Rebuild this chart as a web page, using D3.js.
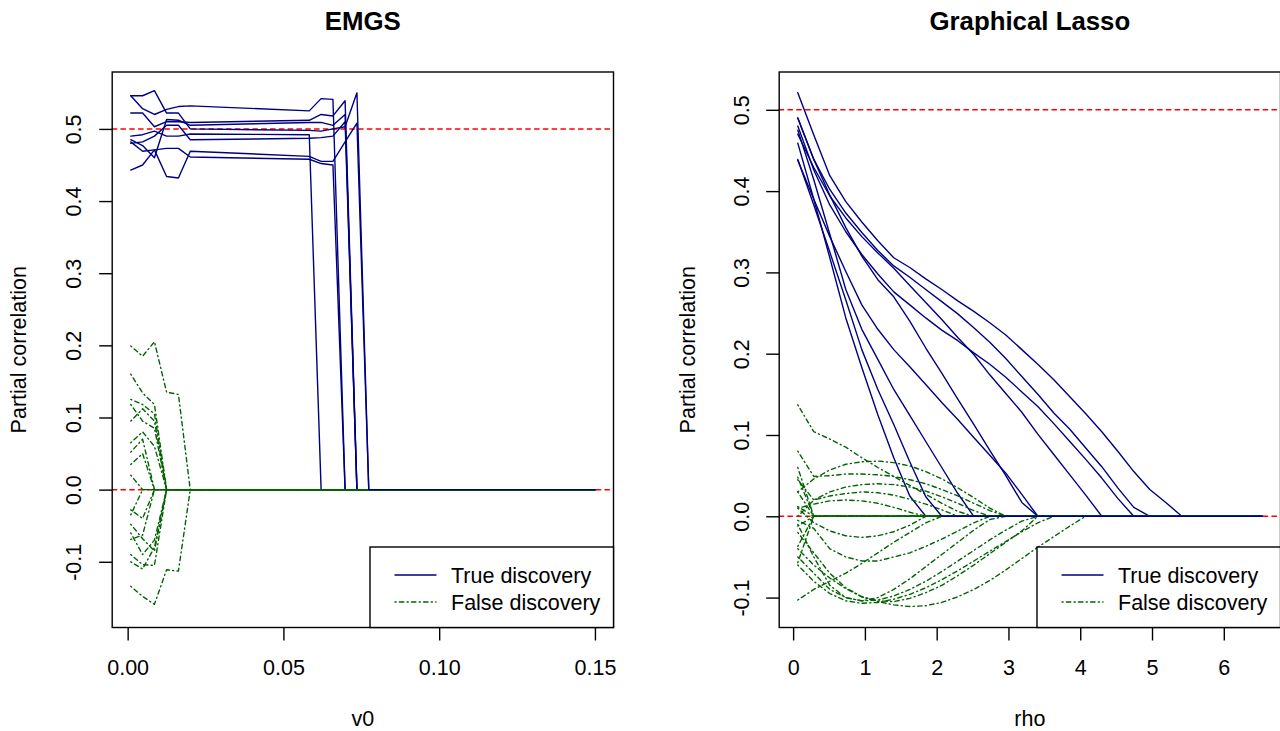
<!DOCTYPE html>
<html><head><meta charset="utf-8">
<script src="https://cdn.jsdelivr.net/npm/d3@7"></script>
<style>
html,body{margin:0;padding:0;background:#fff;}
svg{display:block;}
</style>
</head><body>
<svg id="chart" width="1280" height="731"></svg>
<script>
// ---------------- DATA ----------------
// EMGS panel: v0 grid and partial correlations
const v0Grid = [0.001, 0.0048, 0.0086, 0.0125, 0.0163, 0.0201, 0.0583, 0.0621, 0.0659, 0.0698, 0.0736, 0.0774, 0.15];
const emgsTrue = [
  [0.546,0.528,0.520,0.527,0.531,0.532,0.525,0.542,0.541,0,0,0,0],
  [0.522,0.522,0.503,0.510,0.510,0.509,0.512,0.520,0.518,0.539,0,0,0],
  [0.490,0.492,0.497,0.490,0.490,0.493,0.492,0,0,0,0,0,0],
  [0.485,0.477,0.460,0.513,0.512,0.505,0.509,0.509,0.505,0.520,0,0,0],
  [0.482,0.469,0.471,0.434,0.432,0.469,0.462,0.455,0.455,0.482,0.508,0,0],
  [0.443,0.450,0.471,0.473,0.473,0.461,0.458,0.452,0.450,0,0,0,0],
  [0.480,0.482,0.490,0.505,0.505,0.485,0.487,0.488,0.490,0.510,0,0,0],
  [0.546,0.546,0.553,0.522,0.522,0.500,0.498,0.497,0.500,0.503,0.550,0,0]
];
const emgsFalse = [
  [0.199,0.185,0.205,0.135,0.132,0,0,0,0,0,0,0,0],
  [0.160,0.134,0.118,0,0,0,0,0,0,0,0,0,0],
  [0.125,0.118,0.105,0,0,0,0,0,0,0,0,0,0],
  [0.118,0.095,0.085,0,0,0,0,0,0,0,0,0,0],
  [0.095,0.112,0.095,0,0,0,0,0,0,0,0,0,0],
  [0.065,0.080,0.060,0,0,0,0,0,0,0,0,0,0],
  [0.052,0.070,0,0,0,0,0,0,0,0,0,0,0],
  [0.035,0.050,0,0,0,0,0,0,0,0,0,0,0],
  [0.020,0,0,0,0,0,0,0,0,0,0,0,0],
  [-0.134,-0.148,-0.159,-0.111,-0.113,0,0,0,0,0,0,0,0],
  [-0.090,-0.104,-0.105,0,0,0,0,0,0,0,0,0,0],
  [-0.069,-0.063,0,0,0,0,0,0,0,0,0,0,0],
  [-0.048,-0.068,-0.085,0,0,0,0,0,0,0,0,0,0],
  [-0.028,-0.040,0,0,0,0,0,0,0,0,0,0,0],
  [-0.035,0,0,0,0,0,0,0,0,0,0,0,0],
  [-0.060,-0.090,-0.070,0,0,0,0,0,0,0,0,0,0],
  [-0.100,-0.110,-0.080,0,0,0,0,0,0,0,0,0,0]
];
const emgsXTicks = [0, 0.05, 0.10, 0.15];
const emgsXTickLabels = ["0.00", "0.05", "0.10", "0.15"];

// Graphical lasso panel: rho grid and partial correlations
const rhoGrid = [0.065,0.288,0.511,0.734,0.957,1.180,1.402,1.625,1.848,2.071,2.294,2.517,2.740,2.963,3.186,3.409,3.632,3.855,4.077,4.300,4.523,4.746,4.969,5.192,5.415,5.638,5.861,6.084,6.307,6.530];
const glassoTrue = [
  [0.459,0.390,0.318,0.244,0.183,0.125,0.072,0.025, 0,0,0,0,0, 0,0,0,0,0, 0,0,0,0,0, 0,0,0,0,0, 0,0],
  [0.475,0.414,0.347,0.279,0.230,0.193,0.156,0.124,0.092,0.060,0.028, 0,0,0,0,0, 0,0,0,0,0, 0,0,0,0,0, 0,0,0,0],
  [0.438,0.390,0.344,0.301,0.260,0.230,0.205,0.184,0.162,0.140,0.119,0.097,0.075,0.053,0.027, 0,0,0,0,0, 0,0,0,0,0, 0,0,0,0,0],
  [0.490,0.439,0.395,0.355,0.320,0.291,0.270,0.240,0.207,0.176,0.144,0.113,0.081,0.050,0.017, 0,0,0,0,0, 0,0,0,0,0, 0,0,0,0,0],
  [0.470,0.429,0.394,0.367,0.344,0.324,0.305,0.284,0.263,0.242,0.220,0.199,0.174,0.151,0.128,0.101,0.076,0.051,0.026, 0,0,0,0,0, 0,0,0,0,0, 0],
  [0.480,0.426,0.383,0.350,0.322,0.298,0.276,0.260,0.244,0.229,0.216,0.201,0.187,0.171,0.153,0.135,0.114,0.092,0.070,0.047,0.022, 0,0,0,0,0, 0,0,0,0],
  [0.490,0.439,0.402,0.373,0.349,0.327,0.308,0.294,0.279,0.264,0.249,0.232,0.214,0.194,0.172,0.150,0.127,0.107,0.084,0.061,0.035,0.011, 0,0,0,0,0, 0,0,0],
  [0.521,0.469,0.419,0.387,0.362,0.339,0.318,0.306,0.292,0.279,0.265,0.252,0.238,0.223,0.205,0.187,0.168,0.147,0.126,0.104,0.080,0.055,0.033,0.017, 0,0,0,0,0, 0],
  [0.439,0.383,0.325,0.266,0.205,0.156,0.113,0.067,0.024, 0,0,0,0,0, 0,0,0,0,0, 0,0,0,0,0, 0,0,0,0,0, 0]
];
const glassoFalse = [
  [0.060, 0,0,0,0,0, 0,0,0,0,0, 0,0,0,0,0, 0,0,0,0,0, 0,0,0,0,0, 0,0,0,0],
  [0.048, 0,0,0,0,0, 0,0,0,0,0, 0,0,0,0,0, 0,0,0,0,0, 0,0,0,0,0, 0,0,0,0],
  [0.030, 0,0,0,0,0, 0,0,0,0,0, 0,0,0,0,0, 0,0,0,0,0, 0,0,0,0,0, 0,0,0,0],
  [0.012, 0,0,0,0,0, 0,0,0,0,0, 0,0,0,0,0, 0,0,0,0,0, 0,0,0,0,0, 0,0,0,0],
  [-0.012, 0,0,0,0,0, 0,0,0,0,0, 0,0,0,0,0, 0,0,0,0,0, 0,0,0,0,0, 0,0,0,0],
  [-0.037, 0,0,0,0,0, 0,0,0,0,0, 0,0,0,0,0, 0,0,0,0,0, 0,0,0,0,0, 0,0,0,0],
  [-0.057, 0,0,0,0,0, 0,0,0,0,0, 0,0,0,0,0, 0,0,0,0,0, 0,0,0,0,0, 0,0,0,0],
  [0.137,0.104,0.095,0.085,0.072,0.060,0.049,0.038,0.027,0.016,0.006, 0,0,0,0,0, 0,0,0,0,0, 0,0,0,0,0, 0,0,0,0],
  [0.030,0.046,0.057,0.064,0.067,0.068,0.066,0.062,0.055,0.046,0.035,0.023,0.010, 0,0,0,0,0, 0,0,0,0,0, 0,0,0,0,0, 0,0],
  [0.080,0.049,0.050,0.052,0.052,0.051,0.049,0.045,0.040,0.033,0.025,0.016,0.007, 0,0,0,0,0, 0,0,0,0,0, 0,0,0,0,0, 0,0],
  [0.000,0.020,0.030,0.036,0.039,0.040,0.039,0.036,0.031,0.024,0.016,0.007, 0,0,0,0,0, 0,0,0,0,0, 0,0,0,0,0, 0,0,0],
  [0.045,0.020,0.025,0.028,0.030,0.029,0.026,0.021,0.015,0.008, 0,0,0,0,0, 0,0,0,0,0, 0,0,0,0,0, 0,0,0,0,0],
  [0.010,0.015,0.019,0.020,0.019,0.016,0.011,0.005, 0,0,0,0,0, 0,0,0,0,0, 0,0,0,0,0, 0,0,0,0,0, 0,0],
  [-0.040,-0.060,-0.076,-0.089,-0.099,-0.105,-0.109,-0.111,-0.110,-0.106,-0.099,-0.090,-0.079,-0.066,-0.052,-0.038,-0.025,-0.012, 0,0,0,0,0, 0,0,0,0,0, 0,0],
  [-0.060,-0.080,-0.095,-0.104,-0.107,-0.106,-0.102,-0.096,-0.088,-0.078,-0.067,-0.055,-0.043,-0.031,-0.019,-0.008, 0,0,0,0,0, 0,0,0,0,0, 0,0,0,0],
  [-0.020,-0.045,-0.070,-0.088,-0.099,-0.104,-0.105,-0.101,-0.094,-0.085,-0.073,-0.060,-0.046,-0.032,-0.018, 0,0,0,0,0, 0,0,0,0,0, 0,0,0,0,0],
  [-0.103,-0.090,-0.080,-0.070,-0.058,-0.045,-0.032,-0.020,-0.008, 0,0,0,0,0, 0,0,0,0,0, 0,0,0,0,0, 0,0,0,0,0, 0],
  [-0.010,-0.050,-0.085,-0.100,-0.104,-0.100,-0.090,-0.077,-0.062,-0.047,-0.032,-0.017,-0.004, 0,0,0,0,0, 0,0,0,0,0, 0,0,0,0,0, 0,0],
  [0.010,-0.008,-0.018,-0.024,-0.026,-0.024,-0.019,-0.011, 0,0,0,0,0, 0,0,0,0,0, 0,0,0,0,0, 0,0,0,0,0, 0,0],
  [-0.005,-0.015,-0.040,-0.050,-0.055,-0.055,-0.050,-0.045,-0.037,-0.028,-0.018,-0.008, 0,0,0,0,0, 0,0,0,0,0, 0,0,0,0,0, 0,0,0],
  [-0.050,-0.070,-0.090,-0.100,-0.104,-0.103,-0.098,-0.090,-0.080,-0.068,-0.055,-0.042,-0.029,-0.017,-0.006, 0,0,0,0,0, 0,0,0,0,0, 0,0,0,0,0]
];
const glassoXTicks = [0, 1, 2, 3, 4, 5, 6];
const glassoXTickLabels = ["0", "1", "2", "3", "4", "5", "6"];

const yTicks = [-0.1, 0.0, 0.1, 0.2, 0.3, 0.4, 0.5];
const yTickLabels = ["-0.1", "0.0", "0.1", "0.2", "0.3", "0.4", "0.5"];
const refLevels = [0.5, 0.0];
const legendLabels = ["True discovery", "False discovery"];
const panelTitles = ["EMGS", "Graphical Lasso"];
const xTitles = ["v0", "rho"];
const yTitle = "Partial correlation";

// ---------------- DRAWING ----------------
const FONT = '"Liberation Sans", Arial, Helvetica, sans-serif';
const FS = 21.5;
const NAVY = "#000080", GREEN = "#006400", RED = "#ff0000";
const LW = 1.4;
const svg = d3.select("#chart");

function drawPanel(p) {
  const x = d3.scaleLinear().domain(p.xDomain).range([p.left, p.right]);
  const y = d3.scaleLinear().domain(p.yDomain).range([p.bottom, p.top]);

  svg.append("clipPath").attr("id", p.id).append("rect")
    .attr("x", p.left).attr("y", p.top)
    .attr("width", p.right - p.left).attr("height", p.bottom - p.top);
  const plot = svg.append("g").attr("clip-path", `url(#${p.id})`);

  refLevels.forEach(v => {
    plot.append("line")
      .attr("x1", p.left).attr("x2", p.right)
      .attr("y1", y(v)).attr("y2", y(v))
      .attr("stroke", RED).attr("stroke-width", 1.5)
      .attr("stroke-dasharray", "4.4,4.4").attr("stroke-linecap", "round");
  });

  const line = d3.line()
    .defined((d, i) => i < p.grid.length)
    .x((d, i) => x(p.grid[i])).y(d => y(d));

  const drawTrue = s => plot.append("path").attr("d", line(s))
    .attr("fill", "none").attr("stroke", NAVY).attr("stroke-width", LW)
    .attr("stroke-linejoin", "round").attr("stroke-linecap", "round");
  const drawFalse = s => plot.append("path").attr("d", line(s))
    .attr("fill", "none").attr("stroke", GREEN).attr("stroke-width", LW)
    .attr("stroke-dasharray", "1.1,3.3,4.4,3.3")
    .attr("stroke-linejoin", "round").attr("stroke-linecap", "round");

  const tr = p.trueSeries;
  tr.slice(0, tr.length - 1).forEach(drawTrue);
  p.falseSeries.forEach(drawFalse);
  drawTrue(tr[tr.length - 1]);

  // box
  svg.append("rect").attr("x", p.left).attr("y", p.top)
    .attr("width", p.right - p.left).attr("height", p.bottom - p.top)
    .attr("fill", "none").attr("stroke", "#000").attr("stroke-width", LW);

  // x axis
  const xa = d3.axisBottom(x).tickValues(p.xTicks)
    .tickFormat((d, i) => p.xTickLabels[i]).tickSize(13).tickPadding(19);
  const gx = svg.append("g").attr("transform", `translate(0,${p.bottom})`).call(xa);
  gx.select(".domain").remove();
  gx.selectAll(".tick line").attr("stroke", "#000").attr("stroke-width", LW);
  gx.selectAll(".tick text").attr("font-family", FONT).attr("font-size", FS).attr("fill", "#000");

  // y axis
  const ya = d3.axisLeft(y).tickValues(yTicks)
    .tickFormat((d, i) => yTickLabels[i]).tickSize(13);
  const gy = svg.append("g").attr("transform", `translate(${p.left},0)`).call(ya);
  gy.select(".domain").remove();
  gy.selectAll(".tick line").attr("stroke", "#000").attr("stroke-width", LW);
  gy.selectAll(".tick text")
    .attr("x", null).attr("dy", null)
    .attr("text-anchor", "middle")
    .attr("transform", `translate(${p.yLabelBase - p.left},0) rotate(-90)`)
    .attr("font-family", FONT).attr("font-size", FS).attr("fill", "#000");

  // titles
  const cx = (p.left + p.right) / 2;
  svg.append("text").attr("x", cx).attr("y", 29.5).attr("text-anchor", "middle")
    .attr("font-family", FONT).attr("font-size", 25.8).attr("font-weight", "bold")
    .text(p.title);
  svg.append("text").attr("x", cx).attr("y", 726).attr("text-anchor", "middle")
    .attr("font-family", FONT).attr("font-size", FS).text(p.xTitle);
  svg.append("text")
    .attr("transform", `translate(${p.yTitleBase},${(p.top + p.bottom) / 2}) rotate(-90)`)
    .attr("text-anchor", "middle").attr("font-family", FONT).attr("font-size", FS)
    .text(yTitle);

  // legend (bottom right)
  const lw = 243.5, lh = 80.5;
  const lx = p.right - lw, ly = p.bottom - lh;
  const lg = svg.append("g");
  lg.append("rect").attr("x", lx).attr("y", ly).attr("width", lw).attr("height", lh)
    .attr("fill", "#fff").attr("stroke", "#000").attr("stroke-width", LW);
  const rows = [ly + 28, ly + 55];
  legendLabels.forEach((lab, i) => {
    const l = lg.append("line").attr("x1", lx + 25).attr("x2", lx + 66)
      .attr("y1", rows[i]).attr("y2", rows[i])
      .attr("stroke", i === 0 ? NAVY : GREEN).attr("stroke-width", LW)
      .attr("stroke-linecap", "round");
    if (i === 1) l.attr("stroke-dasharray", "1.1,3.3,4.4,3.3");
    lg.append("text").attr("x", lx + 81).attr("y", rows[i]).attr("dy", "0.35em")
      .attr("font-family", FONT).attr("font-size", FS).text(lab);
  });
}

drawPanel({
  id: "clipL", left: 112.2, right: 613.5, top: 72, bottom: 627.5,
  xDomain: [-0.00496, 0.15596], yDomain: [-0.1911, 0.5789],
  grid: v0Grid, trueSeries: emgsTrue, falseSeries: emgsFalse,
  xTicks: emgsXTicks, xTickLabels: emgsXTickLabels,
  yLabelBase: 81, yTitleBase: 26,
  title: panelTitles[0], xTitle: xTitles[0]
});
drawPanel({
  id: "clipR", left: 779.2, right: 1280.5, top: 72, bottom: 627.5,
  xDomain: [-0.194, 6.79], yDomain: [-0.1368, 0.5465],
  grid: rhoGrid, trueSeries: glassoTrue, falseSeries: glassoFalse,
  xTicks: glassoXTicks, xTickLabels: glassoXTickLabels,
  yLabelBase: 748.5, yTitleBase: 695,
  title: panelTitles[1], xTitle: xTitles[1]
});
</script>
</body></html>
